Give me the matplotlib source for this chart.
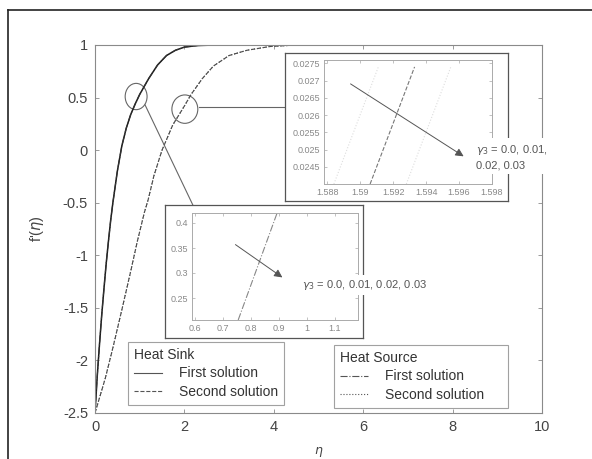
import matplotlib.pyplot as plt
from matplotlib.patches import Ellipse
from matplotlib.lines import Line2D

plt.rcParams['font.family'] = ['Liberation Sans', 'DejaVu Sans']

# first solution, f'(eta) (heat sink and heat source overlap)
eta_first = [0, 0.05, 0.1, 0.15, 0.2, 0.25, 0.3, 0.35, 0.4, 0.5, 0.6, 0.7, 0.8,
             0.9, 1.0, 1.2, 1.4, 1.6, 1.8, 2.0, 2.3, 2.7, 10]
fp_first = [-2.5, -2.15, -1.85, -1.57, -1.32, -1.08, -0.87, -0.67, -0.5, -0.2,
            0.04, 0.21, 0.34, 0.44, 0.53, 0.68, 0.81, 0.9, 0.95, 0.98, 0.995, 1.0, 1.0]
# second solution
eta_second = [0, 0.23, 0.4, 0.6, 0.8, 0.94, 1.1, 1.19, 1.32, 1.5, 1.74, 2.0, 2.15,
              2.4, 2.65, 3.0, 3.4, 3.9, 4.5, 10]
fp_second = [-2.5, -2.17, -1.88, -1.52, -1.15, -0.88, -0.6, -0.47, -0.24, 0.0, 0.24,
             0.42, 0.53, 0.68, 0.8, 0.9, 0.95, 0.985, 1.0, 1.0]

# zoomed views (one line per gamma3 value)
up_x = [[1.5884, 1.5911], [1.5906, 1.5933], [1.5928, 1.5955]]
up_y = [0.0240, 0.0274]
low_x = [[0.754, 0.893]]
low_y = [0.206, 0.42]

xticks = [0, 2, 4, 6, 8, 10]
yticks = [-2.5, -2, -1.5, -1, -0.5, 0, 0.5, 1]
up_xticks = [1.588, 1.59, 1.592, 1.594, 1.596, 1.598]
up_yticks = [0.0245, 0.025, 0.0255, 0.026, 0.0265, 0.027, 0.0275]
low_xticks = [0.6, 0.7, 0.8, 0.9, 1, 1.1]
low_yticks = [0.25, 0.3, 0.35, 0.4]

gamma_label = r'$\gamma_3$ = 0.0, 0.01, 0.02, 0.03'
spine_c = '#8a8a8a'
txt_c = '#444444'

fig = plt.figure(figsize=(5.92, 4.59), dpi=100)
fig.patch.set_facecolor('white')

# page frame (scan border)
fig.add_artist(Line2D([8/592, 8/592], [0, 1 - 10/459], color='#222', lw=1.2))
fig.add_artist(Line2D([8/592, 1], [1 - 10/459, 1 - 10/459], color='#222', lw=1.2))

ax = fig.add_axes([95/592, 1 - 413/459, 447/592, 368/459])
ax.plot(eta_first, fp_first, '-', color='#1a1a1a', lw=1.1)
ax.plot(eta_first, fp_first, '-.', color='#333', lw=0.8)
ax.plot(eta_second, fp_second, '--', color='#444', lw=0.8)
ax.plot(eta_second, fp_second, ':', color='#555', lw=0.8)
ax.set_xlim(0, 10)
ax.set_ylim(-2.5, 1)
ax.set_xticks(xticks)
ax.set_yticks(yticks)
ax.set_xticklabels([str(v) for v in xticks])
ax.set_yticklabels(['-2.5', '-2', '-1.5', '-1', '-0.5', '0', '0.5', '1'])
ax.tick_params(direction='in', top=True, right=True, length=3, width=0.6,
               color=spine_c, labelsize=10.5, labelcolor=txt_c, pad=5)
for s in ax.spines.values():
    s.set_color(spine_c)
    s.set_linewidth(0.8)
ax.set_xlabel(r'$\eta$', fontsize=9, color=txt_c, labelpad=8)
ax.set_ylabel(r"f'($\eta$)", fontsize=10.5, color=txt_c, labelpad=12)

ax.add_patch(Ellipse((0.92, 0.51), 0.49, 0.25, fill=False, ec='#666', lw=0.8))
ax.add_patch(Ellipse((2.01, 0.39), 0.58, 0.27, fill=False, ec='#666', lw=0.8))
ax.plot([1.12, 3.31], [0.43, -1.52], color='#666', lw=0.8)
ax.plot([2.32, 4.25], [0.41, 0.41], color='#666', lw=0.8)

# legends
h_sink = [Line2D([], [], ls='-', color='#555', lw=0.8),
          Line2D([], [], ls='--', color='#555', lw=0.8)]
h_src = [Line2D([], [], ls='-.', color='#555', lw=0.8),
         Line2D([], [], ls=':', color='#555', lw=0.8)]
leg1 = ax.legend(h_sink, ['First solution', 'Second solution'], title='Heat Sink',
                 loc='upper left', bbox_to_anchor=(128/592, 1 - 342/459),
                 bbox_transform=fig.transFigure, borderaxespad=0, fancybox=False,
                 edgecolor=spine_c, fontsize=10, title_fontsize=10, alignment='left',
                 handlelength=2.0, handletextpad=1.2, labelspacing=0.3, borderpad=0.45)
leg1.get_frame().set_linewidth(0.8)
for t in leg1.get_texts() + [leg1.get_title()]:
    t.set_color('#333')
ax.add_artist(leg1)
leg2 = ax.legend(h_src, ['First solution', 'Second solution'], title='Heat Source',
                 loc='upper left', bbox_to_anchor=(334/592, 1 - 405/459, 174/592, 60/459),
                 mode='expand', bbox_transform=fig.transFigure, borderaxespad=0,
                 fancybox=False, edgecolor=spine_c, fontsize=10, title_fontsize=10,
                 alignment='left', handlelength=2.0, handletextpad=1.2,
                 labelspacing=0.3, borderpad=0.45)
leg2.get_frame().set_linewidth(0.8)
for t in leg2.get_texts() + [leg2.get_title()]:
    t.set_color('#333')

# upper inset
box1 = fig.add_axes([285/592, 1 - 201/459, 223/592, 148/459])
box1.set_xticks([])
box1.set_yticks([])
for s in box1.spines.values():
    s.set_color('#555')
    s.set_linewidth(0.9)
ins1 = fig.add_axes([324/592, 1 - 184/459, 168/592, 124/459])
for i, xs in enumerate(up_x):
    ins1.plot(xs, up_y, ls='--' if i == 1 else ':', color='#777' if i == 1 else '#dddddd', lw=0.8)
ins1.set_xlim(1.5878, 1.598)
ins1.set_ylim(0.0240, 0.0276)
ins1.set_xticks(up_xticks)
ins1.set_yticks(up_yticks)
ins1.set_xticklabels(['1.588', '1.59', '1.592', '1.594', '1.596', '1.598'])
ins1.set_yticklabels(['0.0245', '0.025', '0.0255', '0.026', '0.0265', '0.027', '0.0275'])
ins1.annotate('', xy=(1.59642, 0.02476), xytext=(1.58927, 0.02695),
              arrowprops=dict(arrowstyle='-|>', color='#555', lw=0.7, mutation_scale=12))

# lower inset
box2 = fig.add_axes([165/592, 1 - 338/459, 198/592, 133/459])
box2.set_xticks([])
box2.set_yticks([])
for s in box2.spines.values():
    s.set_color('#555')
    s.set_linewidth(0.9)
ins2 = fig.add_axes([192/592, 1 - 320/459, 166/592, 107/459])
for xs in low_x:
    ins2.plot(xs, low_y, ls='-.', color='#888', lw=0.8)
ins2.set_xlim(0.589, 1.182)
ins2.set_ylim(0.206, 0.42)
ins2.set_xticks(low_xticks)
ins2.set_yticks(low_yticks)
ins2.set_xticklabels(['0.6', '0.7', '0.8', '0.9', '1', '1.1'])
ins2.set_yticklabels(['0.25', '0.3', '0.35', '0.4'])
ins2.annotate('', xy=(0.92, 0.288), xytext=(0.736, 0.36),
              arrowprops=dict(arrowstyle='-|>', color='#555', lw=0.7, mutation_scale=12))

for a in (ins1, ins2):
    a.tick_params(direction='in', top=True, right=True, length=2, width=0.5,
                  color='#aaa', labelsize=6.5, labelcolor='#888', pad=3)
    for s in a.spines.values():
        s.set_color('#aaa')
        s.set_linewidth(0.7)

fig.text(302/592, 1 - 285/459, gamma_label, fontsize=8, color='#555', ha='left',
         va='center', bbox=dict(fc='white', ec='none', pad=2), zorder=10)
fig.text(476/592, 1 - 157/459, r'$\gamma_3$ = 0.0, 0.01,' + '\n0.02, 0.03', fontsize=8,
         color='#555', ha='left', va='center', linespacing=1.5,
         bbox=dict(fc='white', ec='none', pad=2), zorder=10)

fig.savefig('out.png', dpi=100)
